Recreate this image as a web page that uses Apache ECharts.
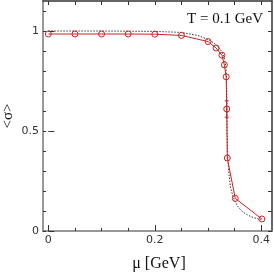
<!DOCTYPE html>
<html><head><meta charset="utf-8">
<script src="https://cdn.jsdelivr.net/npm/echarts@6/dist/echarts.min.js"></script>
<style>html,body{margin:0;padding:0;background:#fff}#c{width:274px;height:272px}</style>
</head><body><div id="c"></div>
<script>
// Red (data) series: mu [GeV] and <sigma>
const muData = [0, 0.05, 0.1, 0.15, 0.2, 0.25, 0.3, 0.315, 0.326, 0.3305, 0.334, 0.335, 0.336, 0.351, 0.401];
const sigmaData = [0.985, 0.985, 0.985, 0.985, 0.984, 0.978, 0.947, 0.915, 0.879, 0.831, 0.771, 0.61, 0.365, 0.163, 0.060];
// Error bars (index into data, half-width)
const errIndex = [11];
const errHalf = [0.041];
// Dashed curve
const muCurve = [0, 0.1, 0.2, 0.25, 0.28, 0.3, 0.31, 0.32, 0.326, 0.33, 0.333, 0.334, 0.335, 0.3355, 0.336, 0.337, 0.339, 0.342, 0.347, 0.355, 0.365, 0.38, 0.4];
const sigmaCurve = [1.0, 1.0, 0.998, 0.993, 0.978, 0.958, 0.942, 0.918, 0.895, 0.868, 0.83, 0.79, 0.70, 0.58, 0.47, 0.37, 0.29, 0.22, 0.17, 0.125, 0.095, 0.072, 0.055];
// Ticks
const xMinorTicks = [0, 0.05, 0.1, 0.15, 0.2, 0.25, 0.3, 0.35, 0.4];
const xMajorTicks = [0, 0.2, 0.4];
const yMinorTicks = [0, 0.1, 0.2, 0.3, 0.4, 0.5, 0.6, 0.7, 0.8, 0.9, 1.0, 1.1];
const yMajorTicks = [0, 0.5, 1];
const title = "T = 0.1 GeV";
const xName = "μ [GeV]";
const yName = "<σ>";

const X_MIN = -0.01, X_MAX = 0.42, Y_MIN = 0, Y_MAX = 1.15;
const red = '#cc2222';
const labelStyle = {color: '#333', fontFamily: 'DejaVu Sans', fontSize: 11};

function xAx(pos, ticks, len, showLabel, line) {
  return {type: 'value', position: pos, min: X_MIN, max: X_MAX,
    splitLine: {show: false},
    axisLine: line ? {show: true, onZero: false, lineStyle: line} : {show: false},
    axisTick: {show: true, inside: true, length: len, customValues: ticks, lineStyle: {color: '#333', width: 1}},
    axisLabel: showLabel ? Object.assign({show: true, margin: 4, customValues: xMajorTicks,
      formatter: v => String(v)}, labelStyle) : {show: false}};
}
function yAx(pos, ticks, len, showLabel, line) {
  return {type: 'value', position: pos, min: Y_MIN, max: Y_MAX,
    splitLine: {show: false},
    axisLine: line ? {show: true, onZero: false, lineStyle: line} : {show: false},
    axisTick: {show: true, inside: true, length: len, customValues: ticks, lineStyle: {color: '#333', width: 1}},
    axisLabel: showLabel ? Object.assign({show: true, margin: 4, customValues: yMajorTicks,
      formatter: v => String(v)}, labelStyle) : {show: false}};
}

const chart = echarts.init(document.getElementById('c'), null, {renderer: 'canvas'});
chart.setOption({
  animation: false,
  grid: {left: 43, right: 2, top: 1, bottom: 41},
  xAxis: [
    xAx('bottom', xMinorTicks, 3, true, {color: '#777', width: 1.5}),
    xAx('bottom', xMajorTicks, 6, false, null),
    xAx('top', xMinorTicks, 4, false, {color: '#333', width: 1.5})
  ],
  yAxis: [
    yAx('left', yMinorTicks, 3, true, {color: '#999', width: 2}),
    yAx('left', yMajorTicks, 6, false, null),
    yAx('right', yMinorTicks, 4, false, {color: '#333', width: 1.5})
  ],
  series: [
    {type: 'line', xAxisIndex: 0, yAxisIndex: 0, showSymbol: false, symbol: 'none',
     data: muCurve.map((m, i) => [m, sigmaCurve[i]]),
     lineStyle: {color: '#333', width: 1, type: [1.5, 1.5]}, z: 2},
    {type: 'line', xAxisIndex: 0, yAxisIndex: 0, symbol: 'circle', symbolSize: 6,
     data: muData.map((m, i) => [m, sigmaData[i]]),
     lineStyle: {color: red, width: 1},
     itemStyle: {color: 'rgba(0,0,0,0)', borderColor: red, borderWidth: 1}, z: 3},
    {type: 'custom', xAxisIndex: 0, yAxisIndex: 0,
     data: errIndex.map((k, i) => [muData[k], sigmaData[k] - errHalf[i], sigmaData[k] + errHalf[i]]),
     renderItem: function (params, api) {
       const lo = api.coord([api.value(0), api.value(1)]);
       const hi = api.coord([api.value(0), api.value(2)]);
       const s = {stroke: red, lineWidth: 1};
       return {type: 'group', children: [
         {type: 'line', shape: {x1: lo[0], y1: lo[1], x2: hi[0], y2: hi[1]}, style: s},
         {type: 'line', shape: {x1: lo[0] - 2, y1: lo[1], x2: lo[0] + 2, y2: lo[1]}, style: s},
         {type: 'line', shape: {x1: hi[0] - 2, y1: hi[1], x2: hi[0] + 2, y2: hi[1]}, style: s}
       ]};
     }, z: 4}
  ],
  graphic: [
    {type: 'text', right: 11, top: 12, style: {text: title, font: '15px "Liberation Serif"', fill: '#111'}},
    {type: 'text', x: 159, y: 264, style: {text: xName, font: '16px "Liberation Serif"', fill: '#111', align: 'center', verticalAlign: 'middle'}},
    {type: 'text', x: 8, y: 116, rotation: Math.PI / 2, style: {text: yName, font: '15px "Liberation Serif"', fill: '#111', align: 'center', verticalAlign: 'middle'}}
  ]
});
</script></body></html>
